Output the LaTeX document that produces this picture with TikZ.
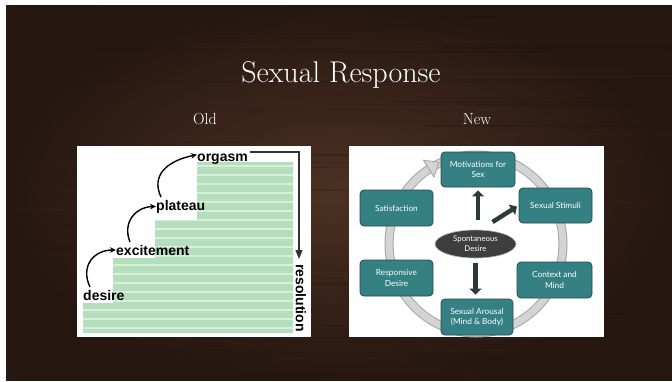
\documentclass[tikz,border=0pt]{standalone}
\usepackage{fontspec}
\newfontfamily\boxfont{Lato}
\newfontfamily\labfont{Liberation Sans}
\usetikzlibrary{arrows.meta,shapes.geometric,calc}
\definecolor{woodA}{RGB}{76,49,34}
\definecolor{woodB}{RGB}{38,23,17}
\definecolor{woodC}{RGB}{95,62,42}
\definecolor{woodD}{RGB}{25,14,10}
\definecolor{teal1}{RGB}{52,128,130}
\definecolor{teal2}{RGB}{38,76,80}
\definecolor{greenA}{RGB}{180,222,188}
\definecolor{ringfill}{RGB}{212,212,212}
\definecolor{ringline}{RGB}{165,165,165}
\definecolor{arrowdark}{RGB}{45,58,60}
\definecolor{ellfill}{RGB}{62,62,62}
\begin{document}
\begin{tikzpicture}[x=1pt,y=-1pt,
  tbox/.style={draw=teal2, line width=0.8pt, fill=teal1, rounded corners=4pt, text=white,
    font=\boxfont\fontsize{8.3}{10.5}\selectfont, align=center, inner sep=0pt},
  stairlab/.style={font=\labfont\bfseries\fontsize{14}{16}\selectfont, text=black, inner sep=0pt},
  curv/.style={line width=1.4pt, -{Stealth[length=6pt,width=5.5pt]}},
  blockarrow/.style={draw=arrowdark, line width=4.5pt, -{Triangle[length=6pt,width=12pt]}},
  ]
\useasboundingbox (0,0) rectangle (672,381);
\fill[white] (0,0) rectangle (672,381);
\shade[inner color=woodA, outer color=woodB] (6,5) rectangle (672,380);
\pgfmathsetseed{7}
\begin{scope}
  \clip (6,5) rectangle (672,380);
  \foreach \k in {1,...,70} {
    \pgfmathsetmacro{\yy}{5+375*rnd}
    \pgfmathsetmacro{\xa}{6+500*rnd}
    \pgfmathsetmacro{\ll}{80+300*rnd}
    \pgfmathsetmacro{\op}{0.08+0.15*rnd}
    \draw[woodD, opacity=\op, line width=1.5pt] (\xa,\yy) -- ({\xa+\ll},\yy);
  }
  \foreach \k in {1,...,40} {
    \pgfmathsetmacro{\yy}{5+375*rnd}
    \pgfmathsetmacro{\xa}{6+500*rnd}
    \pgfmathsetmacro{\ll}{60+250*rnd}
    \pgfmathsetmacro{\op}{0.06+0.12*rnd}
    \draw[woodC, opacity=\op, line width=1.2pt] (\xa,\yy) -- ({\xa+\ll},\yy);
  }
\end{scope}

% titles
\node[anchor=base, text=white, font=\fontsize{30}{34}\selectfont, inner sep=0] (title) at (341,82) {Sexual Response};
\node[anchor=base, text=white, font=\fontsize{16}{18}\selectfont, inner sep=0] (old) at (205,124) {Old};
\node[anchor=base, text=white, font=\fontsize{16}{18}\selectfont, inner sep=0] (new) at (477,124) {New};

% ---------- left panel ----------
\fill[white] (77,146) rectangle (311,337);
\begin{scope}
  \clip (83,333) -- (83,303) -- (113,303) -- (113,258) -- (155,258) -- (155,220) -- (197,220) -- (197,162) -- (293,162) -- (293,333) -- cycle;
  \fill[greenA] (80,160) rectangle (295,335);
  \foreach \k in {0,...,19} {
    \draw[white, opacity=0.5, line width=1.4pt] (80,{166+9*\k}) -- (295,{166+9*\k});
  }
\end{scope}

\node[stairlab, anchor=base west] (orgasm) at (197,161) {orgasm};
\node[stairlab, anchor=base west] (plateau) at (156,210) {plateau};
\node[stairlab, anchor=base west] (excite) at (116,255) {excitement};
\node[stairlab, anchor=base west] (desire) at (83,300) {desire};

\coordinate (d0) at (90,287);
\coordinate (e0) at (130,242);
\coordinate (p0) at (161,197);
\draw[curv] (d0) .. controls (80,266) and (94,250) .. (excite.west);
\draw[curv] (e0) .. controls (122,222) and (136,207) .. (plateau.west);
\draw[curv] (p0) .. controls (151,176) and (166,161) .. ([yshift=4pt]orgasm.west);

\coordinate (r0) at (250,152);
\coordinate (r1) at (299,152);
\coordinate (r2) at (299,259);
\draw[line width=1.3pt, black!80, -{Triangle[length=9pt,width=7pt]}] (r0) -- (r1) -- (r2);
\node[stairlab, rotate=-90] (resol) at (301,298) {resolution};

% ---------- right panel ----------
\fill[white] (349,146) rectangle (604,337);
\coordinate (c) at (476,244);
\draw[ringline, line width=9pt] (c) ellipse [x radius=87, y radius=89];
\draw[ringfill, line width=7pt] (c) ellipse [x radius=87, y radius=89];
\begin{scope}[shift={(433,166)}, rotate=32]
  \filldraw[fill=ringfill, draw=ringline, line width=0.8pt] (-5,-10) -- (7,0) -- (-5,10) -- cycle;
\end{scope}

\node[tbox, minimum width=74pt, minimum height=35pt] (mot) at (478,169.5) {Motivations for\\Sex};
\node[tbox, minimum width=73pt, minimum height=35pt] (stim) at (555.5,205.5) {Sexual Stimuli};
\node[tbox, minimum width=73pt, minimum height=36pt] (sat) at (396.5,208) {Satisfaction};
\node[tbox, minimum width=73pt, minimum height=36pt] (resp) at (396.5,278) {Responsive\\Desire};
\node[tbox, minimum width=75pt, minimum height=36pt] (ctx) at (554.5,280) {Context and\\Mind};
\node[tbox, minimum width=72pt, minimum height=36pt] (aro) at (477,317) {Sexual Arousal\\(Mind \& Body)};

\node[ellipse, fill=ellfill, draw=gray!60, line width=0.6pt, minimum width=81pt, minimum height=28pt, inner sep=0pt,
  text=white, font=\boxfont\fontsize{7.8}{9.8}\selectfont, align=center] (sp) at (475.5,244) {Spontaneous\\Desire};

\draw[blockarrow, shorten <=10pt, shorten >=3pt] (sp.north -| mot.south) -- (mot.south);
\draw[blockarrow, shorten >=2pt] ($(sp.center)+(17,-22)$) -- (stim.west);
\draw[blockarrow, shorten <=5pt, shorten >=4pt] (sp.south) -- (sp.south |- aro.north);
\end{tikzpicture}
\end{document}
